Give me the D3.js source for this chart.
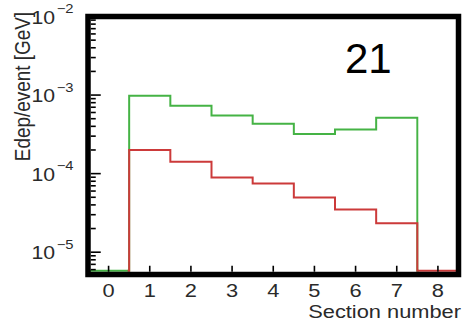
<!DOCTYPE html>
<html>
<head>
<meta charset="utf-8">
<script src="https://cdn.jsdelivr.net/npm/d3@7"></script>
<style>
  html, body { margin: 0; padding: 0; background: #fff; }
  svg { display: block; }
  text { font-family: "Liberation Sans", Arial, Helvetica, sans-serif; fill: #2a2a2a; }
</style>
</head>
<body>
<svg id="chart" width="462" height="322"></svg>
<script>
// Energy deposit per event in each section (log scale)
const sections = [0, 1, 2, 3, 4, 5, 6, 7, 8];
const greenEdep = [0, 9.8e-4, 7.3e-4, 5.5e-4, 4.3e-4, 3.2e-4, 3.65e-4, 5.15e-4, 0];
const redEdep   = [0, 2.0e-4, 1.42e-4, 8.9e-5, 7.5e-5, 4.95e-5, 3.5e-5, 2.33e-5, 0];
const xTicks = [0, 1, 2, 3, 4, 5, 6, 7, 8];
const yDecades = [-5, -4, -3, -2];
const panelLabel = "21";
const xTitle = "Section number";
const yTitle = "Edep/event [GeV]";

const svg = d3.select("#chart");
const frame = { left: 88, right: 458.5, top: 16.5, bottom: 274.5, stroke: 5.5 };
const stretch = 1.18; // horizontal glyph stretch of axis text

const x = d3.scaleLinear().domain([-0.5, 8.5]).range([frame.left, frame.right]);
const y = d3.scaleLog().domain([5.2e-6, 1e-2]).range([frame.bottom, frame.top]);
const floorY = frame.bottom - frame.stroke / 2 - 1;

// step outline of a histogram: bins with zero content lie on the floor
function histPath(values) {
  const pts = [];
  values.forEach((v, i) => {
    const yy = v > 0 ? y(v) : floorY;
    pts.push([x(sections[i] - 0.5), yy], [x(sections[i] + 0.5), yy]);
  });
  return d3.line()(pts);
}

function drawHist(values, color, clipFrom, clipTo, id) {
  svg.append("clipPath").attr("id", id).append("rect")
    .attr("x", x(clipFrom) - 1.5).attr("y", 0)
    .attr("width", x(clipTo) - x(clipFrom) + 3).attr("height", 322);
  svg.append("path")
    .attr("d", histPath(values))
    .attr("clip-path", `url(#${id})`)
    .attr("fill", "none")
    .attr("stroke", color)
    .attr("stroke-width", 2);
}

drawHist(greenEdep, "#45b345", -0.5, 7.5, "clip-green");
drawHist(redEdep, "#cc3a3a", 0.5, 8.5, "clip-red");

// y-axis ticks inside the frame: decades long, 2..9 short
const inL = frame.left + frame.stroke / 2;
const yMinor = [];
yDecades.forEach(d => {
  for (let k = 2; k <= 9; k++) yMinor.push(k * Math.pow(10, d - 1));
});
svg.append("g").selectAll("line").data(yMinor.filter(v => v >= y.domain()[0] && v <= y.domain()[1]))
  .join("line")
  .attr("x1", inL).attr("x2", inL + 5)
  .attr("y1", d => y(d)).attr("y2", d => y(d))
  .attr("stroke", "#000").attr("stroke-width", 1.6);
svg.append("g").selectAll("line").data(yDecades.map(d => Math.pow(10, d)))
  .join("line")
  .attr("x1", inL).attr("x2", inL + 10)
  .attr("y1", d => y(d)).attr("y2", d => y(d))
  .attr("stroke", "#000").attr("stroke-width", 1.6);

// x-axis ticks inside the frame
const inB = frame.bottom - frame.stroke / 2;
svg.append("g").selectAll("line").data(xTicks)
  .join("line")
  .attr("x1", d => x(d)).attr("x2", d => x(d))
  .attr("y1", inB).attr("y2", inB - 6)
  .attr("stroke", "#000").attr("stroke-width", 1.6);

// frame
svg.append("rect")
  .attr("x", frame.left).attr("y", frame.top)
  .attr("width", frame.right - frame.left).attr("height", frame.bottom - frame.top)
  .attr("fill", "none").attr("stroke", "#000").attr("stroke-width", frame.stroke);

// x tick labels
svg.append("g").selectAll("text").data(xTicks)
  .join("text")
  .attr("transform", d => `translate(${x(d)},297) scale(${stretch},1)`)
  .attr("text-anchor", "middle")
  .attr("font-size", 18.5)
  .text(d => d);

// y tick labels: 10 with a superscript exponent
const yl = svg.append("g").selectAll("g").data(yDecades).join("g")
  .attr("transform", d => `translate(55,${y(Math.pow(10, d))}) scale(${stretch},1)`);
yl.append("text")
  .attr("y", 7).attr("text-anchor", "end")
  .attr("font-size", 18)
  .text("10");
yl.append("text")
  .attr("x", 1.5).attr("y", -3.5)
  .attr("font-size", 12.5)
  .text(d => "\u2212" + Math.abs(d));

// axis titles
svg.append("text")
  .attr("transform", `translate(461,318) scale(${stretch},1)`)
  .attr("text-anchor", "end")
  .attr("font-size", 18.5)
  .text(xTitle);
svg.append("text")
  .attr("transform", "translate(30,12) rotate(-90) scale(0.97,1.12)")
  .attr("text-anchor", "end")
  .attr("font-size", 19.5)
  .text(yTitle);

// panel number
svg.append("text")
  .attr("x", 345).attr("y", 72.5)
  .attr("font-family", "Lato, 'Open Sans', sans-serif")
  .attr("font-size", 42).attr("fill", "#000")
  .style("fill", "#000")
  .text(panelLabel);
</script>
</body>
</html>
